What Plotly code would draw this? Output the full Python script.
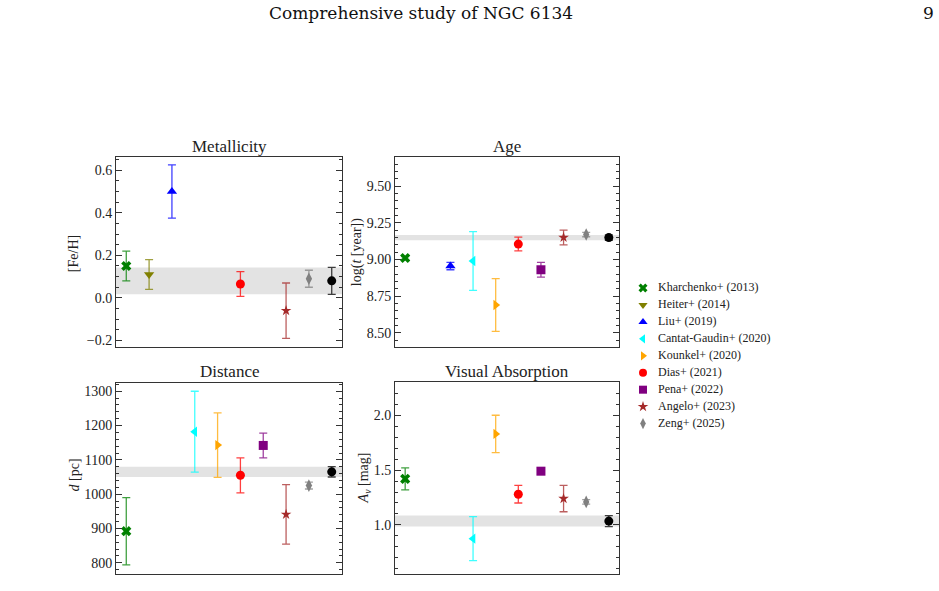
import plotly.graph_objects as go

# ---------------- data ----------------
refs = ["Kharchenko+ (2013)", "Heiter+ (2014)", "Liu+ (2019)", "Cantat-Gaudin+ (2020)",
        "Kounkel+ (2020)", "Dias+ (2021)", "Pena+ (2022)", "Angelo+ (2023)",
        "Zeng+ (2025)", "This study"]
colors = ["#008000", "#808000", "#0000ff", "#00ffff", "#ffa500", "#ff0000",
          "#800080", "#a52a2a", "#808080", "#000000"]
symbols = ["x", "triangle-down", "triangle-up", "triangle-left", "triangle-right",
           "circle", "square", "star", "diamond-tall", "circle"]

feh = [0.15, 0.11, 0.50, None, None, 0.065, None, -0.06, 0.09, 0.08]
feh_err = [0.07, 0.07, 0.125, None, None, 0.058, None, 0.13, 0.04, 0.063]
age = [9.01, None, 8.955, 8.99, 8.69, 9.105, 8.93, 9.15, 9.17, 9.149]
age_err = [0.01, None, 0.025, 0.2, 0.18, 0.047, 0.05, 0.05, 0.015, 0.018]
dist = [892, None, None, 1182, 1143, 1055, 1142, 941, 1025, 1065]
dist_err = [98, None, None, 118, 94, 51, 36, 87, 10, 15]
av = [1.42, None, None, 0.875, 1.83, 1.28, 1.49, 1.24, 1.21, 1.035]
av_err = [0.10, None, None, 0.20, 0.17, 0.08, 0.03, 0.12, 0.02, 0.05]

panel_titles = ["Metallicity", "Age", "Distance", "Visual Absorption"]
ytitles = ["[Fe/H]", "log(<i>t</i> [year])", "<i>d</i> [pc]", "<i>A<sub>v</sub></i> [mag]"]

W, H = 939, 591
FONT = "Liberation Serif"
TXT = "#222222"
LINE = "#333333"

def hex_rgba(h, a):
    h = h.lstrip("#")
    return "rgba(%d,%d,%d,%.2f)" % (int(h[0:2], 16), int(h[2:4], 16), int(h[4:6], 16), a)

# panel boxes in pixels: (left, right, top, bottom)
boxes = [(116, 342, 158, 348), (395, 619, 158, 348),
         (116, 342, 384, 576), (395, 619, 383, 576)]
yranges = [[-0.23, 0.66], [8.405, 9.695], [767, 1325], [0.552, 2.306]]
ydticks = [0.2, 0.25, 100, 0.5]
ytick0 = [0, 8.5, 800, 1.0]
yminor = [0.05, 0.05, 20, 0.1]
yfmt = [".1f", ".2f", "d", ".1f"]
panels = [(feh, feh_err), (age, age_err), (dist, dist_err), (av, av_err)]
title_y = [147, 147, 373, 373]

def msize(i):
    return 8 if symbols[i] == "star" else 9

fig = go.Figure()
for p, (vals, errs) in enumerate(panels):
    xa = "x" if p == 0 else "x%d" % (p + 1)
    ya = "y" if p == 0 else "y%d" % (p + 1)
    for i, ref in enumerate(refs):
        if vals[i] is None:
            continue
        fig.add_trace(go.Scatter(
            x=[i], y=[vals[i]], mode="markers", name=ref, showlegend=False,
            marker=dict(symbol=symbols[i], color=colors[i], size=msize(i),
                        line=dict(width=0)),
            error_y=dict(type="data", array=[errs[i]], visible=True,
                         color=hex_rgba(colors[i], 0.75), thickness=1.3, width=4),
            xaxis=xa, yaxis=ya, cliponaxis=False))
    # band from this study
    fig.add_shape(type="rect", xref="%s domain" % xa, yref=ya,
                  x0=0, x1=1, y0=vals[9] - errs[9], y1=vals[9] + errs[9],
                  fillcolor="rgba(200,200,200,0.5)", line=dict(width=0), layer="below")

    l, r, t, b = boxes[p]
    xkey = "xaxis" if p == 0 else "xaxis%d" % (p + 1)
    ykey = "yaxis" if p == 0 else "yaxis%d" % (p + 1)
    fig.layout[xkey] = dict(domain=[l / W, r / W], range=[-0.45, 9.45], anchor=ya,
                            showticklabels=False, ticks="", showgrid=False, zeroline=False,
                            showline=True, mirror=True, linecolor=LINE, linewidth=1)
    fig.layout[ykey] = dict(domain=[1 - b / H, 1 - t / H], range=yranges[p], anchor=xa,
                            tick0=ytick0[p], dtick=ydticks[p], tickformat=yfmt[p],
                            ticks="inside", ticklen=6, tickcolor=LINE, tickwidth=1,
                            minor=dict(ticks="inside", dtick=yminor[p], ticklen=3,
                                       tickcolor=LINE, tickwidth=1, showgrid=False),
                            showgrid=False, zeroline=False, showline=True, mirror="allticks",
                            linecolor=LINE, linewidth=1,
                            tickfont=dict(family=FONT, size=14, color=TXT))
    fig.add_annotation(text=panel_titles[p], x=(l + r) / 2 / W, y=1 - title_y[p] / H,
                       xref="paper", yref="paper", xanchor="center", yanchor="middle",
                       showarrow=False, font=dict(family=FONT, size=17, color=TXT))

# y axis titles
ytitle_pos = [(73, 255), (357, 253), (74, 477), (364, 480)]
for p, (xx, yy) in enumerate(ytitle_pos):
    fig.add_annotation(text=ytitles[p], x=xx / W, y=1 - yy / H, xref="paper", yref="paper",
                       xanchor="center", yanchor="middle", textangle=-90, showarrow=False,
                       font=dict(family=FONT, size=14, color=TXT))

# manual legend (hidden axes, one row per reference)
nleg = 9
leg_top, leg_step = 280.5, 17
NB = "\u00a0\u00a0\u00a0"
fig.layout["xaxis5"] = dict(domain=[643 / W, 830 / W], range=[0, 1], visible=False,
                            anchor="y5", fixedrange=True)
fig.layout["yaxis5"] = dict(domain=[1 - (leg_top + nleg * leg_step) / H, 1 - leg_top / H],
                            range=[nleg - 0.5, -0.5], visible=False, anchor="x5", fixedrange=True)
for i in range(nleg):
    fig.add_trace(go.Scatter(
        x=[0], y=[i], mode="markers+text", text=[NB + refs[i]], textposition="middle right",
        textfont=dict(family=FONT, size=12, color=TXT), showlegend=False,
        marker=dict(symbol=symbols[i], color=colors[i], size=8, line=dict(width=0)),
        xaxis="x5", yaxis="y5", cliponaxis=False, hoverinfo="skip"))

# page header
fig.add_annotation(text="Comprehensive study of NGC 6134", x=421 / W, y=1 - 13 / H,
                   xref="paper", yref="paper", xanchor="center", yanchor="middle",
                   showarrow=False, font=dict(family="DejaVu Serif", size=17, color="#111"))
fig.add_annotation(text="9", x=928 / W, y=1 - 13 / H, xref="paper", yref="paper",
                   xanchor="center", yanchor="middle", showarrow=False,
                   font=dict(family="DejaVu Serif", size=17, color="#111"))

fig.update_layout(
    width=W, height=H, margin=dict(l=0, r=0, t=0, b=0),
    paper_bgcolor="white", plot_bgcolor="white",
    showlegend=False,
)

fig.write_html("out.html")
